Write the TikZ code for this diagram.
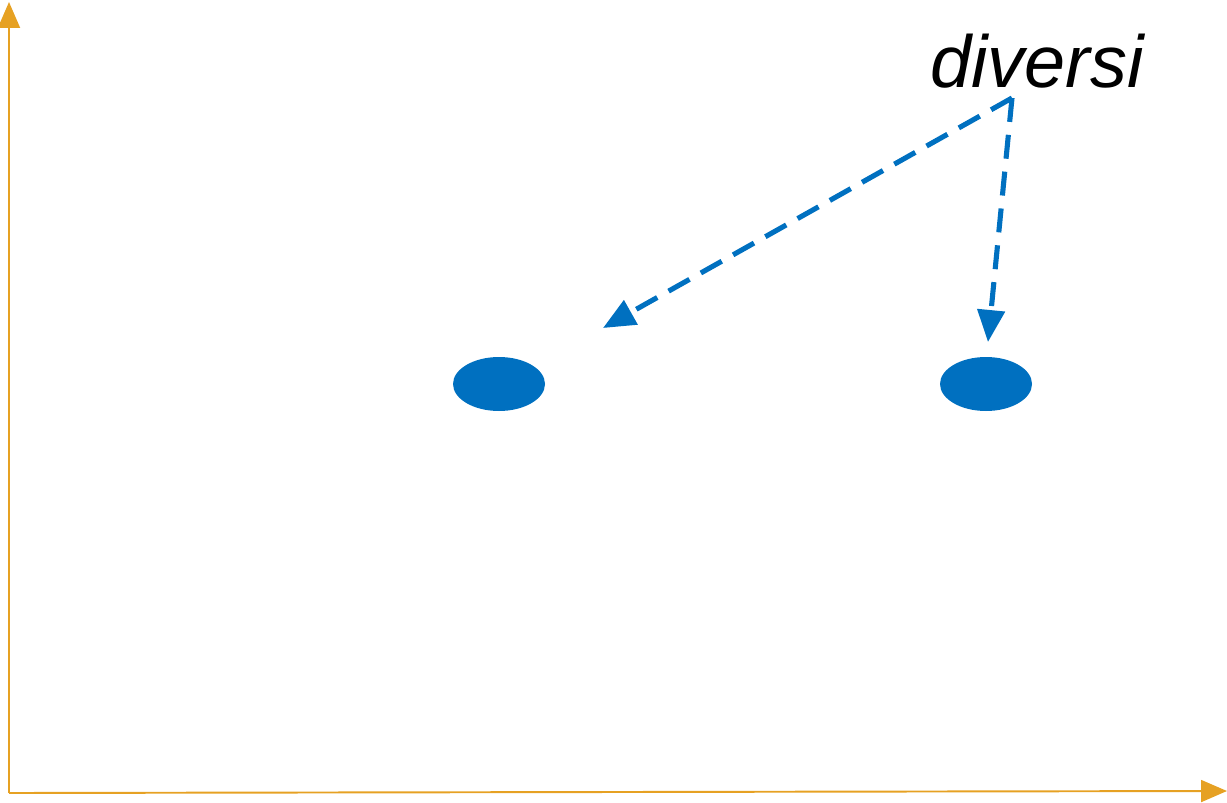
\documentclass[tikz,border=0pt]{standalone}
\usepackage{fontspec}
\setmainfont{Liberation Sans}
\usetikzlibrary{positioning,calc,arrows.meta,shapes.geometric}
\definecolor{AxisOrange}{RGB}{230,161,35}
\definecolor{PointBlue}{RGB}{0,112,192}

\begin{document}
\begin{tikzpicture}[
    axis/.style={
        line width=1.1pt,
        draw=AxisOrange,
        -{Triangle[length=5.2mm,width=4.4mm]}
    },
    point/.style={
        ellipse,
        fill=PointBlue,
        inner sep=0pt,
        minimum width=1.84cm,
        minimum height=1.08cm
    },
    link/.style={
        line width=2.9pt,
        draw=PointBlue,
        dash pattern=on 4.8mm off 2.6mm,
        -{Triangle[length=6.4mm,width=5.4mm]}
    },
    label/.style={
        font=\itshape\fontsize{42}{46}\selectfont,
        anchor=base
    }
]
\useasboundingbox (0,0) rectangle (24.54,16.04);

% =========================
% Axes
% =========================
\coordinate (origin) at (0.18,0.18);
\coordinate (ytip)   at (0.18,16.00);
\coordinate (xtip)   at (24.54,0.22);

\draw[axis] (origin) -- (ytip);
\draw[axis] (origin) -- (xtip);

% =========================
% Points and label
% =========================
\node[point] (left)  at (9.98,8.36) {};
\node[point] (right) at (19.72,8.36) {};

\node[label] (diversi) at (20.74,14.28) {diversi};

\coordinate (src)      at (20.24,14.08);
\coordinate (lefttip)  at (12.06,9.48);
\coordinate (righttip) at (19.76,9.20);

\draw[link] (src) -- (lefttip);
\draw[link] (src) -- (righttip);

\end{tikzpicture}
\end{document}
